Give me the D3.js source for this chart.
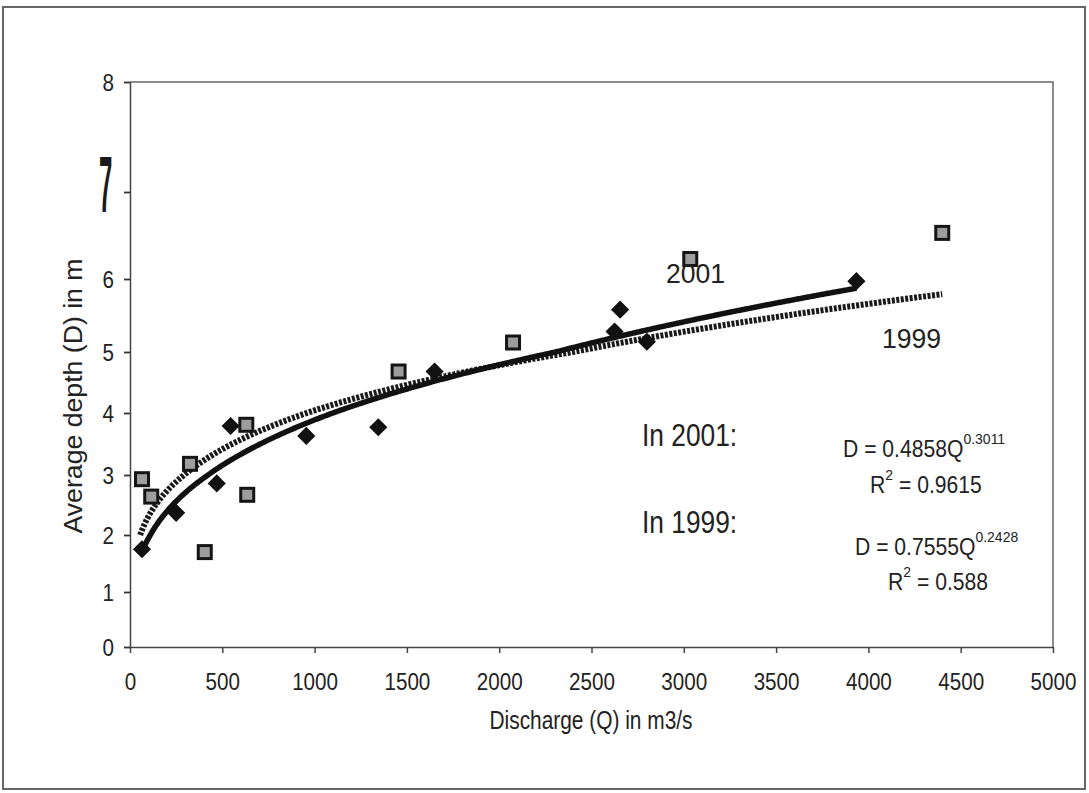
<!DOCTYPE html>
<html>
<head>
<meta charset="utf-8">
<script src="https://cdn.jsdelivr.net/npm/d3@7"></script>
<style>
  html, body { margin: 0; padding: 0; background: #fff; }
  svg { display: block; font-family: "Liberation Sans", Arial, sans-serif; }
</style>
</head>
<body>
<svg id="chart" width="1089" height="793"></svg>
<script>
// Data
const discharge2001 = [65, 250, 470, 545, 955, 1345, 1650, 2625, 2655, 2800, 3935];
const depth2001     = [1.75, 2.37, 2.86, 3.79, 3.63, 3.77, 4.68, 5.28, 5.58, 5.14, 5.97];

const discharge1999 = [65, 115, 325, 405, 630, 635, 1455, 2075, 3035, 4400];
const depth1999     = [2.93, 2.64, 3.18, 1.70, 3.81, 2.67, 4.68, 5.13, 6.23, 6.53];

// Power trend lines D = a * Q^b, as printed on the chart
const trend2001 = { a: 0.4858, b: 0.3011, from: 65, to: 3935 };
const trend1999 = { a: 0.7555, b: 0.2428, from: 55, to: 4400 };

const xTicks = d3.range(0, 5001, 500);
const yTicks = d3.range(0, 9);

// Layout (the scan is stretched unevenly in height, so the y scale follows its tick marks)
const yTickPx = [647, 592, 535, 475, 413, 352, 279, 192, 82];
const plotLeft = 130, plotRight = 1053;

const svg = d3.select("#chart");

// outer frame
svg.append("rect")
  .attr("x", 3).attr("y", 7)
  .attr("width", 1082).attr("height", 782)
  .attr("fill", "none")
  .attr("stroke", "#666")
  .attr("stroke-width", 2);

const x = d3.scaleLinear().domain([0, 5000]).range([plotLeft, plotRight]);
const y = d3.scaleLinear().domain(yTicks).range(yTickPx);

// plot box (top + right)
svg.append("path")
  .attr("d", `M${x(0)},${y(8)}H${x(5000)}V${y(0)}`)
  .attr("fill", "none")
  .attr("stroke", "#666")
  .attr("stroke-width", 1.5);

// Axes
const xAxis = svg.append("g")
  .attr("transform", `translate(0,${y(0)})`)
  .call(d3.axisBottom(x).tickValues(xTicks).tickSize(6).tickSizeOuter(0)
    .tickFormat(d3.format("d")));

xAxis.select(".domain").attr("stroke", "#444").attr("stroke-width", 1.5);
xAxis.selectAll(".tick line").attr("stroke", "#444").attr("stroke-width", 1.5);
xAxis.selectAll(".tick text")
  .attr("y", 0).attr("dy", 0)
  .attr("transform", "translate(0,43) scale(0.86,1)")
  .attr("font-size", 24)
  .attr("font-family", "Liberation Sans, Arial, sans-serif")
  .attr("fill", "#222");

const yAxis = svg.append("g")
  .attr("transform", `translate(${x(0)},0)`)
  .call(d3.axisLeft(y).tickValues(yTicks).tickSize(6).tickSizeOuter(0)
    .tickFormat((d) => (d === 7 ? "" : d)));

yAxis.select(".domain").attr("stroke", "#444").attr("stroke-width", 1.5);
yAxis.selectAll(".tick line").attr("stroke", "#333").attr("stroke-width", 1.8);
yAxis.selectAll(".tick text")
  .attr("x", 0).attr("dy", "0.36em")
  .attr("transform", "translate(-16,0) scale(0.86,1)")
  .attr("font-size", 24)
  .attr("font-family", "Liberation Sans, Arial, sans-serif")
  .attr("fill", "#222");

// handwritten "7" on the y axis
svg.append("text")
  .attr("transform", `translate(99,${y(7) + 20}) scale(0.3,1)`)
  .attr("font-size", 80)
  .attr("font-weight", "bold")
  .attr("fill", "#1a1a1a")
  .text("7");

// Axis titles
svg.append("text")
  .attr("x", 591).attr("y", 729)
  .attr("text-anchor", "middle")
  .attr("font-size", 25)
  .attr("textLength", 203)
  .attr("lengthAdjust", "spacingAndGlyphs")
  .attr("fill", "#222")
  .text("Discharge (Q) in m3/s");

svg.append("text")
  .attr("transform", "translate(82,396) rotate(-90)")
  .attr("text-anchor", "middle")
  .attr("font-size", 25)
  .attr("textLength", 275)
  .attr("lengthAdjust", "spacingAndGlyphs")
  .attr("fill", "#222")
  .text("Average depth (D) in m");

// Trend lines
const line = d3.line().x((d) => x(d[0])).y((d) => y(d[1]));
function trendPoints(t) {
  return d3.range(t.from, t.to, 10).concat([t.to]).map((q) => [q, t.a * Math.pow(q, t.b)]);
}

svg.append("path")
  .datum(trendPoints(trend1999))
  .attr("d", line)
  .attr("fill", "none")
  .attr("stroke", "#1a1a1a")
  .attr("stroke-width", 6)
  .attr("stroke-dasharray", "3 1.5");

svg.append("path")
  .datum(trendPoints(trend2001))
  .attr("d", line)
  .attr("fill", "none")
  .attr("stroke", "#111")
  .attr("stroke-width", 5.5);

// Markers
svg.append("g")
  .selectAll("rect")
  .data(d3.zip(discharge1999, depth1999))
  .join("rect")
  .attr("x", (d) => x(d[0]) - 6.5)
  .attr("y", (d) => y(d[1]) - 6.5)
  .attr("width", 13)
  .attr("height", 13)
  .attr("fill", "#9d9d9d")
  .attr("stroke", "#151515")
  .attr("stroke-width", 3);

svg.append("g")
  .selectAll("path")
  .data(d3.zip(discharge2001, depth2001))
  .join("path")
  .attr("d", d3.symbol(d3.symbolSquare, 165))
  .attr("transform", (d) => `translate(${x(d[0])},${y(d[1])}) rotate(45)`)
  .attr("fill", "#111");

// Annotations
function addText(px, py, size, sx, parts) {
  const t = svg.append("text")
    .attr("transform", `translate(${px},${py}) scale(${sx},1)`)
    .attr("font-size", size)
    .attr("fill", "#222");
  let raised = false;
  parts.forEach(([str, sup]) => {
    const span = t.append("tspan").text(str);
    if (sup && !raised) {
      span.attr("font-size", size * 0.66).attr("dy", -size * 0.55);
      raised = true;
    } else if (!sup && raised) {
      span.attr("dy", size * 0.55);
      raised = false;
    }
  });
  return t;
}

addText(666, 283, 28, 0.95, [["2001"]]);
addText(882, 348, 28, 0.95, [["1999"]]);
addText(642, 446, 31, 0.85, [["In 2001:"]]);
addText(642, 533, 31, 0.85, [["In 1999:"]]);

addText(843, 457, 23, 0.92, [["D = 0.4858Q"], ["0.3011", true]]);
addText(870, 493, 23, 0.92, [["R"], ["2", true], [" = 0.9615"]]);
addText(855, 555, 23, 0.92, [["D = 0.7555Q"], ["0.2428", true]]);
addText(888, 590, 23, 0.92, [["R"], ["2", true], [" = 0.588"]]);
</script>
</body>
</html>
